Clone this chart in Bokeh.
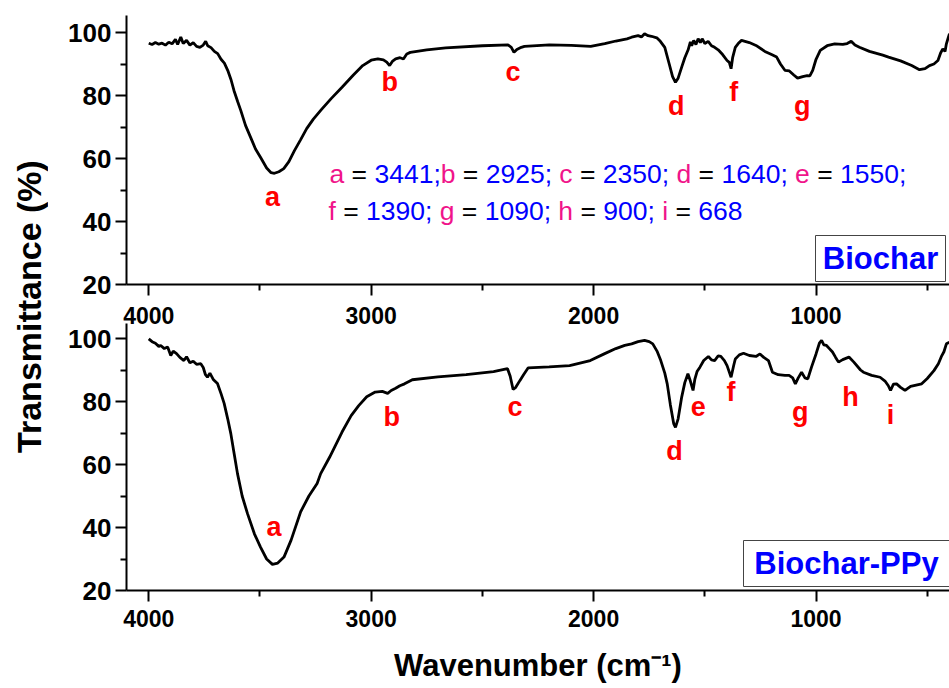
import math
from bokeh.plotting import figure
from bokeh.layouts import row, column
from bokeh.models import FixedTicker, Label, BoxAnnotation, Range1d, ColumnDataSource, LinearAxis
from bokeh.core.properties import value
from bokeh.embed import file_html
from bokeh.resources import INLINE

# ---------------- data ----------------
biochar_wn = [4000, 3985, 3970, 3955, 3940, 3925, 3910, 3895, 3880, 3870, 3856, 3845, 3830, 3815,
              3800, 3785, 3770, 3755, 3744, 3735, 3720, 3705, 3690, 3675, 3660, 3645, 3630, 3617,
              3600, 3586, 3565, 3542, 3520, 3497, 3470, 3450, 3435, 3415, 3393, 3370, 3345, 3317,
              3290, 3260, 3224, 3180, 3131, 3080, 3038, 3000, 2970, 2945, 2930, 2917, 2905, 2890,
              2870, 2855, 2840, 2824, 2750, 2665, 2500, 2385, 2370, 2358, 2345, 2325, 2311, 2199,
              2100, 2013, 1950, 1900, 1850, 1829, 1800, 1785, 1771, 1755, 1740, 1716, 1700, 1680,
              1660, 1645, 1632, 1620, 1604, 1590, 1575, 1565, 1559, 1550, 1540, 1530, 1520, 1512,
              1500, 1485, 1470, 1456, 1440, 1420, 1400, 1390, 1382, 1375, 1363, 1350, 1335, 1300,
              1270, 1230, 1200, 1177, 1160, 1140, 1120, 1100, 1083, 1060, 1040, 1028, 1015, 1000,
              981, 950, 916, 880, 860, 842, 825, 805, 760, 700, 674, 620, 570, 535, 510, 490, 470,
              452, 440, 430, 420, 414, 405, 400]
biochar_t = [96.6, 96.2, 96.8, 96.3, 96.6, 96.0, 96.9, 96.4, 97.8, 96.2, 98.6, 96.5, 97.5, 96.0,
             96.8, 95.6, 95.3, 96.0, 97.2, 95.8, 95.2, 94.0, 93.3, 91.5, 90.3, 88.0, 85.0, 81.6,
             78.0, 75.2, 70.5, 66.7, 63.0, 60.3, 57.0, 55.5, 55.3, 55.8, 56.8, 59.0, 62.5, 66.0,
             69.5, 72.5, 75.5, 79.0, 82.6, 86.5, 89.5, 91.2, 91.6, 91.3, 90.6, 89.5, 90.8, 91.6,
             92.0, 91.6, 93.2, 93.7, 94.5, 95.1, 95.8, 96.1, 95.3, 93.7, 94.6, 95.3, 95.6, 96.1,
             95.9, 95.6, 96.5, 97.3, 98.0, 98.5, 99.0, 98.6, 99.6, 99.0, 98.8, 98.3, 97.2, 95.3,
             90.0, 86.0, 84.2, 85.5, 89.0, 92.0, 94.5, 97.0, 95.8, 97.5, 96.2, 98.0, 96.8, 98.0,
             96.5, 97.2, 95.8, 95.3, 94.5, 93.0, 91.1, 90.5, 88.5, 92.0, 95.3, 96.5, 97.5, 96.8,
             95.9, 94.0, 93.0, 92.2, 90.0, 88.0, 87.8, 86.5, 85.5, 86.0, 86.3, 86.2, 88.0, 91.5,
             94.3, 95.8, 96.4, 96.2, 96.5, 97.2, 96.0, 95.3, 94.0, 92.8, 92.2, 91.0, 89.5, 88.2,
             88.5, 89.5, 90.0, 91.1, 93.5, 94.8, 94.0, 96.4, 98.5, 99.6]

ppy_wn = [4000, 3985, 3970, 3955, 3946, 3930, 3915, 3901, 3890, 3875, 3860, 3842, 3830, 3815,
          3800, 3785, 3766, 3755, 3745, 3736, 3725, 3710, 3691, 3675, 3661, 3645, 3631, 3615,
          3601, 3580, 3556, 3525, 3497, 3470, 3444, 3420, 3392, 3360, 3317, 3280, 3243, 3227,
          3187, 3131, 3090, 3056, 3020, 2982, 2950, 2926, 2910, 2890, 2871, 2850, 2815, 2700,
          2573, 2450, 2387, 2375, 2362, 2350, 2331, 2315, 2294, 2200, 2108, 2015, 1950, 1900,
          1860, 1829, 1800, 1771, 1750, 1734, 1715, 1698, 1680, 1669, 1655, 1640, 1632, 1620,
          1604, 1590, 1576, 1565, 1553, 1545, 1535, 1522, 1505, 1484, 1470, 1456, 1440, 1428,
          1412, 1400, 1382, 1370, 1363, 1345, 1326, 1300, 1270, 1252, 1235, 1214, 1196, 1170,
          1140, 1121, 1105, 1093, 1080, 1065, 1050, 1037, 1020, 1000, 985, 975, 965, 953, 940,
          926, 912, 899, 880, 852, 830, 800, 787, 750, 712, 690, 675, 665, 652, 638, 620, 600,
          575, 550, 525, 500, 470, 450, 435, 425, 414, 400]
ppy_t = [99.9, 99.0, 98.5, 97.5, 97.8, 96.8, 97.3, 94.6, 96.0, 95.2, 94.0, 93.0, 94.2, 92.3,
         92.8, 91.8, 92.0, 90.8, 88.5, 87.7, 89.0, 87.0, 85.7, 82.5, 79.4, 74.5, 69.8, 63.0,
         57.1, 50.0, 44.4, 38.0, 33.7, 30.0, 28.3, 28.7, 30.6, 36.0, 45.0, 50.0, 54.0, 57.1,
         62.3, 70.3, 75.5, 78.7, 81.5, 83.0, 83.2, 82.6, 83.5, 84.2, 85.0, 85.6, 86.9, 87.8,
         88.5, 89.5, 90.4, 88.0, 83.8, 84.5, 86.7, 88.5, 90.7, 91.0, 91.4, 93.0, 95.2, 96.8,
         97.8, 98.3, 99.0, 99.4, 99.0, 98.3, 96.0, 93.0, 89.0, 85.6, 79.0, 73.0, 71.8, 74.5,
         81.4, 86.0, 88.8, 86.5, 83.5, 87.0, 89.5, 90.9, 93.0, 94.3, 93.2, 93.0, 94.5, 94.3,
         93.0, 91.4, 87.7, 91.5, 93.5, 94.8, 95.3, 94.6, 94.3, 95.1, 94.0, 93.0, 89.3, 88.5,
         88.3, 88.3, 87.5, 85.6, 87.5, 89.3, 87.5, 87.2, 91.0, 95.1, 98.5, 99.4, 98.0, 97.8, 96.8,
         95.7, 94.0, 92.5, 93.3, 94.1, 92.5, 90.0, 89.3, 88.3, 87.7, 86.5, 85.0, 83.5, 85.5, 85.6,
         84.5, 83.5, 84.8, 85.2, 85.6, 87.3, 89.8, 92.0, 94.5, 95.8, 98.3, 98.8]

# peak letters (label text, wavenumber, transmittance of label centre)
top_peaks = ["a", "b", "c", "d", "f", "g"]
top_peaks_wn = [3444, 2917, 2362, 1628, 1370, 1062]
top_peaks_t = [47.7, 84.2, 87.4, 76.8, 81.0, 76.8]

bot_peaks = ["a", "b", "c", "d", "e", "f", "g", "h", "i"]
bot_peaks_wn = [3437, 2908, 2353, 1636, 1530, 1382, 1071, 845, 665]
bot_peaks_t = [40.1, 75.0, 78.2, 64.4, 78.4, 83.0, 76.6, 81.4, 75.6]

x_ticks = [1000, 2000, 3000, 4000]
x_minor = [500, 1500, 2500, 3500]
y_ticks = [20, 40, 60, 80, 100]
y_minor = [30, 50, 70, 90]

band_letters = ["a", "b", "c", "d", "e", "f", "g", "h", "i"]
band_values = ["3441", "2925", "2350", "1640", "1550", "1390", "1090", "900", "668"]

# ---------------- layout constants ----------------
FONT = "Liberation Sans"
X_START, X_END = 4100, 400
LEFT_W = 48
BORDER_L = 78
FRAME_L_PAGE = LEFT_W + BORDER_L          # 126
FRAME_W = 823
PX_PER_T = 3.15
TOP_BT, TOP_FH, TOP_BB = 15, 269, 16
BOT_BT, BOT_FH, BOT_BB = 23, 267, 98
TOP_YMAX = 20 + TOP_FH / PX_PER_T
BOT_YMAX = 20 + BOT_FH / PX_PER_T
TOP_FRAME_T = TOP_BT
BOT_FRAME_T = TOP_BT + TOP_FH + TOP_BB + BOT_BT
TOTAL_H = TOP_BT + TOP_FH + TOP_BB + BOT_BT + BOT_FH + BOT_BB

PINK = "#F0148A"
BLUE = "#0000FF"
RED = "#FF0000"


def px2x(px):
    return X_START - (px - FRAME_L_PAGE) * (X_START - X_END) / FRAME_W


def py2y_top(py):
    return TOP_YMAX - (py - TOP_FRAME_T) / PX_PER_T


def py2y_bot(py):
    return BOT_YMAX - (py - BOT_FRAME_T) / PX_PER_T


def style_axis(ax):
    ax.axis_line_width = 2
    ax.axis_line_color = "black"
    ax.major_tick_line_width = 2
    ax.minor_tick_line_width = 2
    ax.major_tick_line_color = "black"
    ax.minor_tick_line_color = "black"
    ax.major_tick_out = 11
    ax.major_tick_in = 0
    ax.minor_tick_out = 6
    ax.minor_tick_in = 0
    ax.major_label_text_font = FONT
    ax.major_label_text_font_style = "bold"
    ax.major_label_text_color = "black"


def make_panel(bt, fh, bb, ymax):
    p = figure(width=BORDER_L + FRAME_W, height=bt + fh + bb,
               x_range=Range1d(X_START, X_END), y_range=Range1d(20, ymax),
               output_backend="svg", toolbar_location=None,
               min_border_left=BORDER_L, min_border_right=0,
               min_border_top=bt, min_border_bottom=bb)
    p.xaxis.ticker = FixedTicker(ticks=x_ticks, minor_ticks=x_minor)
    p.yaxis.ticker = FixedTicker(ticks=y_ticks, minor_ticks=y_minor)
    for ax in p.axis:
        style_axis(ax)
    p.xaxis.major_label_text_font_size = "23px"
    p.yaxis.major_label_text_font_size = "26px"
    p.yaxis.major_label_standoff = 4
    p.grid.visible = False
    p.outline_line_color = None
    p.background_fill_color = "white"
    p.border_fill_color = "white"
    return p


def add_peaks(p, letters, xs, ys):
    src = ColumnDataSource(dict(x=xs, y=ys, t=letters))
    p.text(x="x", y="y", text="t", source=src, text_color=RED,
           text_font=value(FONT), text_font_style="bold",
           text_font_size=value("27px"), text_align="center", text_baseline="middle")


def add_tag(p, label, left_px, right_px, top_px, bot_px, conv):
    p.add_layout(BoxAnnotation(left=px2x(left_px), right=px2x(right_px),
                               top=conv(top_px), bottom=conv(bot_px),
                               fill_color="white", fill_alpha=1.0,
                               line_color="#444444", line_width=1, line_alpha=1.0))
    p.add_layout(Label(x=px2x((left_px + right_px) / 2), y=conv((top_px + bot_px) / 2),
                       text=label, text_font=FONT, text_font_style="bold",
                       text_font_size="31px", text_color=BLUE,
                       text_align="center", text_baseline="middle"))


# ---------------- top panel (Biochar) ----------------
p_top = make_panel(TOP_BT, TOP_FH, TOP_BB, TOP_YMAX)
# the top panel's x tick labels are drawn by the lower figure's "above" axis
p_top.xaxis.major_label_overrides = {t: "" for t in x_ticks}
p_top.xaxis.major_label_text_font_size = "0px"
p_top.xaxis.major_label_standoff = 0
p_top.line(biochar_wn, biochar_t, line_color="black", line_width=2.8)
add_peaks(p_top, top_peaks, top_peaks_wn, top_peaks_t)

# multi-coloured band assignment text
W = {' ': 278, ';': 278, '=': 584, 'a': 556, 'b': 556, 'c': 500, 'd': 556, 'e': 556,
     'f': 278, 'g': 556, 'h': 556, 'i': 222}
for dch in "0123456789":
    W[dch] = 556
FS = 26.5


def segments(letters, values, last_sep, tight_first):
    segs = []
    n = len(letters)
    for k, (l, v) in enumerate(zip(letters, values)):
        segs.append((l, PINK))
        segs.append((" = ", "black"))
        if k == n - 1:
            segs.append((v + last_sep, BLUE))
        elif k == 0 and tight_first:
            segs.append((v + ";", BLUE))
        else:
            segs.append((v + "; ", BLUE))
    return segs


line1 = segments(band_letters[:5], band_values[:5], ";", True)
line2 = segments(band_letters[5:], band_values[5:], "", False)
tx, ty, tt, tc = [], [], [], []
for segs, x0, yc in ((line1, 329, 173), (line2, 328, 210)):
    x = x0
    for txt, col in segs:
        lead = len(txt) - len(txt.lstrip(" "))
        tx.append(px2x(x + lead * W[" "] * FS / 1000))
        ty.append(py2y_top(yc))
        tt.append(txt.strip())
        tc.append(col)
        x += sum(W[c] for c in txt) * FS / 1000
p_top.text(x="x", y="y", text="t", text_color="c",
           source=ColumnDataSource(dict(x=tx, y=ty, t=tt, c=tc)),
           text_font=value(FONT), text_font_size=value("%spx" % FS),
           text_align="left", text_baseline="middle")

add_tag(p_top, "Biochar", 815, 945, 235, 281, py2y_top)

# ---------------- bottom panel (Biochar-PPy) ----------------
p_bot = make_panel(BOT_BT, BOT_FH, BOT_BB, BOT_YMAX)
p_bot.line(ppy_wn, ppy_t, line_color="black", line_width=2.8)
add_peaks(p_bot, bot_peaks, bot_peaks_wn, bot_peaks_t)
add_tag(p_bot, "Biochar-PPy", 743, 949, 540, 586, py2y_bot)

# tick labels of the upper panel's wavenumber axis
top_labels_axis = LinearAxis(ticker=FixedTicker(ticks=x_ticks))
style_axis(top_labels_axis)
top_labels_axis.axis_line_color = None
top_labels_axis.major_tick_line_color = None
top_labels_axis.minor_tick_line_color = None
top_labels_axis.major_tick_out = 0
top_labels_axis.minor_tick_out = 0
top_labels_axis.major_label_standoff = 0
top_labels_axis.major_label_text_font_size = "23px"
p_bot.add_layout(top_labels_axis, "above")

bottom_axis = p_bot.below[0]
bottom_axis.major_label_standoff = 8
bottom_axis.axis_label = "Wavenumber (cm\u207b\u00b9)"
bottom_axis.axis_label_text_font = FONT
bottom_axis.axis_label_text_font_style = "bold"
bottom_axis.axis_label_text_font_size = "31px"
bottom_axis.axis_label_text_color = "black"
bottom_axis.axis_label_standoff = 18

# ---------------- shared y-axis title ----------------
p_lab = figure(width=LEFT_W, height=TOTAL_H, x_range=Range1d(0, LEFT_W),
               y_range=Range1d(0, TOTAL_H), x_axis_type=None, y_axis_type=None,
               output_backend="svg", toolbar_location=None, min_border=0)
p_lab.grid.visible = False
p_lab.outline_line_color = None
p_lab.add_layout(Label(x=28, y=TOTAL_H - 306, text="Transmittance (%)",
                       angle=math.pi / 2, text_font=FONT, text_font_style="bold",
                       text_font_size="34px", text_color="black",
                       text_align="center", text_baseline="middle"))

layout = row(p_lab, column(p_top, p_bot))
open("out.html", "w").write(file_html(layout, INLINE))
